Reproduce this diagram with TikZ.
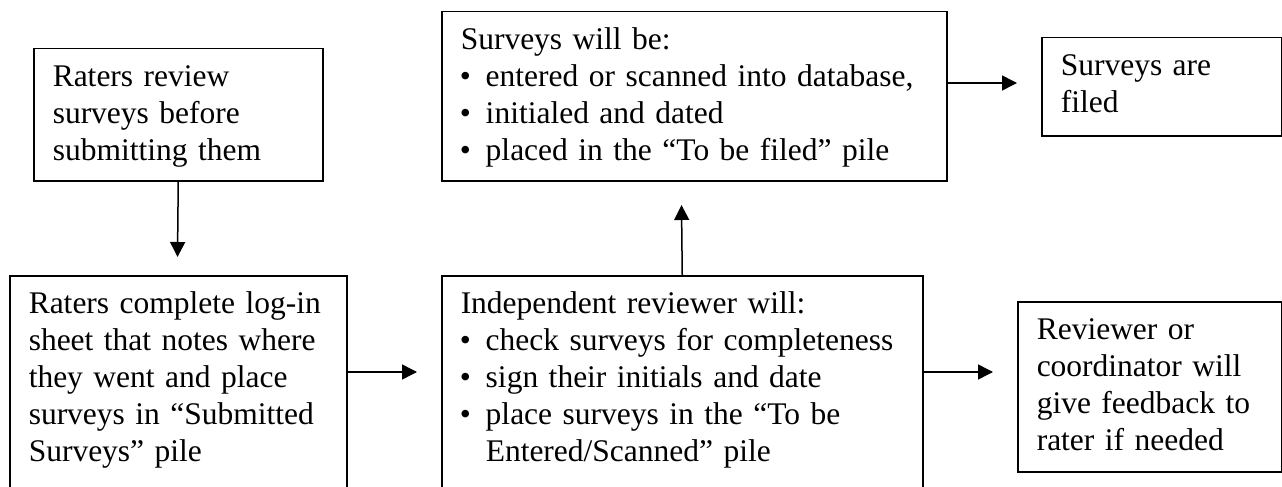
\documentclass[tikz,border=0pt]{standalone}
\usepackage{fontspec}
\setmainfont{Liberation Serif}
\usetikzlibrary{arrows.meta}
\newcommand{\bul}{\makebox[25pt][l]{\hspace*{-1pt}\textbullet}}
\newcommand{\cont}{\hspace*{25pt}}
\tikzset{
  box/.style={draw, line width=1.5pt, anchor=north west, inner xsep=19pt, inner ysep=0pt,
    align=left, font=\fontsize{31.5}{37}\selectfont, text height=38pt},
  conn/.style={line width=1.5pt, -{Triangle[length=15pt,width=15pt]}}
}
\begin{document}
\begin{tikzpicture}[x=1pt,y=-1pt]
\useasboundingbox (0,0) rectangle (1282,487);
\node[box, text width=251pt, text depth=94pt] (b1) at (33,48)
  {Raters review\\surveys before\\submitting them};
\node[box, text width=299pt, text depth=182pt] (b2) at (9,275)
  {Raters complete log-in\\sheet that notes where\\they went and place\\surveys in “Submitted\\Surveys” pile};
\node[box, text width=467pt, text depth=131pt] (b3) at (441,11)
  {Surveys will be:\\\bul entered or scanned into database,\\\bul initialed and dated\\\bul placed in the “To be filed” pile};
\node[box, text width=202pt, text depth=60pt] (b4) at (1041,37)
  {Surveys are\\filed};
\node[box, text width=443pt, text depth=182pt] (b5) at (441,275)
  {Independent reviewer will:\\\bul check surveys for completeness\\\bul sign their initials and date\\\bul place surveys in the “To be\\\cont Entered/Scanned” pile};
\node[box, text width=226pt, text depth=132pt] (b6) at (1017,301)
  {Reviewer or\\coordinator will\\give feedback to\\rater if needed};
\coordinate (t1) at (177.5,257);
\coordinate (t2) at (417,372);
\coordinate (t3) at (681.5,205);
\coordinate (t4) at (1017,83);
\coordinate (t5) at (993,372);
\draw[conn] (b1.south) -- (t1);
\draw[conn] (b2.east |- t2) -- (t2);
\draw[conn] (b5.north) -- (t3);
\draw[conn] (b3.east |- t4) -- (t4);
\draw[conn] (b5.east |- t5) -- (t5);
\end{tikzpicture}
\end{document}
